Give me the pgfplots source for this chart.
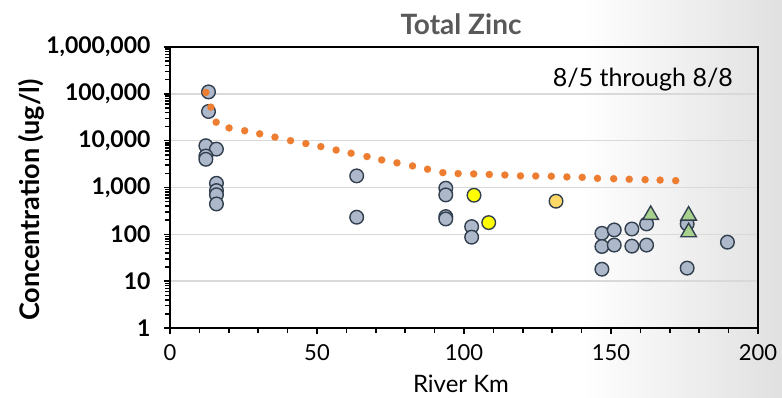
\documentclass[border=0pt]{standalone}
\usepackage{pgfplots}
\pgfplotsset{compat=1.18}
\usepackage{fontspec}
\setmainfont{Lato}
\definecolor{ptfill}{HTML}{ADB9CA}
\definecolor{ptedge}{HTML}{323F4F}
\definecolor{yel}{HTML}{FFFF00}
\definecolor{lorange}{HTML}{FFD966}
\definecolor{grn}{HTML}{A9D18E}
\definecolor{orng}{HTML}{ED7D31}
\definecolor{titlegray}{HTML}{595959}
\definecolor{gridgray}{HTML}{D9D9D9}
\begin{document}
\begin{tikzpicture}[x=1bp,y=1bp]
\useasboundingbox (0,0) rectangle (782,397);
\shade[left color=white, right color=black!12] (580,0) rectangle (782,397);
\begin{axis}[
  at={(170bp,69bp)}, anchor=south west,
  scale only axis, width=588bp, height=281bp,
  xmin=0, xmax=200, ymode=log, ymin=1, ymax=1000000,
  axis line style={line width=1.8bp, black},
  xtick={0,50,100,150,200},
  xticklabels={0,50,100,150,200},
  minor x tick num=4,
  ytick={1,10,100,1000,10000,100000,1000000},
  yticklabels={1,10,100,{1,000},{10,000},{100,000},{1,000,000}},
  tick align=outside,
  major tick length=6bp, minor tick length=5bp,
  tick style={line width=1.5bp, black},
  xtick pos=bottom, ytick pos=left,
  ymajorgrids, major grid style={line width=1.4bp, gridgray},
  xticklabel style={font=\fontsize{22bp}{26bp}\selectfont, yshift=-7bp},
  yticklabel style={font=\bfseries\fontsize{23bp}{27bp}\selectfont, xshift=-10bp},
  clip=false,
]
\addplot[only marks, mark=*, mark size=6.8bp, mark options={fill=ptfill, draw=ptedge, line width=1.4bp}] coordinates {
(13.1,110000) (13.1,42000) (12.2,7800) (15.8,6600) (12.2,4700) (12.2,4000)
(15.8,1230) (15.8,860) (15.8,700) (15.8,445)
(63.5,1770) (63.5,232)
(93.8,966) (93.8,695) (93.8,239) (93.8,213)
(102.6,146) (102.6,87)
(146.9,105) (146.9,55) (146.9,18)
(151.1,124) (151.1,59)
(157.1,130) (157.1,56)
(162.1,167) (162.1,59)
(175.9,167) (175.9,19)
(189.6,68)
};
\addplot[only marks, mark=*, mark size=6.8bp, mark options={fill=yel, draw=ptedge, line width=1.4bp}] coordinates {
(103.4,684) (108.4,178)
};
\addplot[only marks, mark=*, mark size=6.8bp, mark options={fill=lorange, draw=ptedge, line width=1.4bp}] coordinates {
(131.3,510)
};
\addplot[only marks, mark=triangle*, mark size=9bp, mark options={fill=grn, draw=ptedge, line width=1.4bp}] coordinates {
(163.5,260) (176.4,251) (176.4,111)
};
\addplot[only marks, color=orng, mark=*, mark size=3.6bp, mark options={fill=orng, draw=orng, line width=0.1bp}] coordinates {
(12.2,107000) (13.9,52000) (15.7,24800) (20.1,18700) (25.4,16300) (30.5,14000)
(35.7,11900) (41,10000) (46.2,8670) (51.3,7480) (56.5,6300) (61.6,5400)
(67,4580) (72,3880) (77.2,3360) (82.5,2890) (87.6,2460) (92.8,2080)
(98,1980) (103.3,1950) (108.6,1900) (113.9,1850) (119.2,1770) (124.4,1760)
(129.7,1740) (135,1680) (140.2,1650) (145.4,1570) (150.9,1540) (156.2,1500)
(161.6,1470) (166.7,1440) (172,1400)
};
\end{axis}
\node[font=\bfseries\fontsize{28bp}{32bp}\selectfont, text=titlegray] at (461,373) {Total Zinc};
\node[font=\fontsize{25bp}{29bp}\selectfont, anchor=east, inner sep=0pt] at (733,317) {8/5 through 8/8};
\node[font=\bfseries\fontsize{27bp}{31bp}\selectfont, rotate=90] at (31,197) {Concentration (ug/l)};
\node[font=\fontsize{24bp}{28bp}\selectfont] at (461,13) {River Km};
\end{tikzpicture}
\end{document}
